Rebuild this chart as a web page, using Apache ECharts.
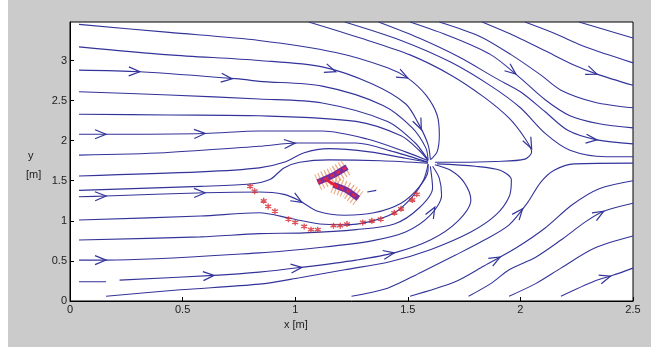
<!DOCTYPE html>
<html><head><meta charset="utf-8">
<script src="https://cdn.jsdelivr.net/npm/echarts/dist/echarts.min.js"></script>
<style>
html,body{margin:0;padding:0;background:#fff;width:651px;height:351px;overflow:hidden}
#c{position:absolute;left:8px;top:0;width:643px;height:347px;background:#cbcbcb}
</style></head><body><div id="c"></div>
<script>
// ---- axis ticks ----
const xTicks = [0, 0.5, 1, 1.5, 2, 2.5];
const yTicks = [0, 0.5, 1, 1.5, 2, 2.5, 3];
const yMax = 3.48;

// ---- streamlines (x [m], y [m]) ----
const L1 = [[0.04,3.45],[0.44,3.35],[0.84,3.25],[1.18,3.10],[1.41,2.91],[1.50,2.78],[1.58,2.57],[1.63,2.32],[1.64,2.07],[1.63,1.86],[1.60,1.76]];
const L2 = [[0.04,3.17],[0.44,3.07],[0.84,3.00],[1.12,2.92],[1.34,2.71],[1.49,2.46],[1.55,2.20],[1.59,1.95],[1.60,1.77]];
const L3 = [[0.04,2.88],[0.31,2.86],[0.75,2.77],[0.84,2.74],[1.12,2.68],[1.39,2.44],[1.52,2.16],[1.58,1.91],[1.59,1.76]];
const L4 = [[0.04,2.61],[0.44,2.57],[0.84,2.52],[1.12,2.47],[1.41,2.24],[1.53,1.98],[1.59,1.76]];
const L5 = [[0.04,2.33],[0.44,2.32],[0.84,2.31],[1.27,2.24],[1.47,2.06],[1.55,1.88],[1.59,1.75]];
const L6 = [[0.04,2.08],[0.16,2.08],[0.60,2.09],[0.84,2.12],[1.12,2.12],[1.32,2.02],[1.49,1.86],[1.59,1.75]];
const L7 = [[0.04,1.82],[0.42,1.85],[0.84,1.93],[1.01,1.97],[1.27,1.97],[1.44,1.86],[1.59,1.73]];
const L8 = [[0.04,1.56],[0.58,1.61],[0.84,1.66],[0.95,1.73],[1.04,1.85],[1.15,1.90],[1.33,1.86],[1.49,1.78],[1.59,1.73]];
const L9 = [[0.04,1.38],[0.58,1.43],[0.80,1.46],[0.89,1.52],[0.95,1.66],[1.02,1.73],[1.15,1.76],[1.38,1.75],[1.59,1.72]];
const L10 = [[0.04,1.30],[0.16,1.31],[0.60,1.35],[0.84,1.36],[0.95,1.33],[1.02,1.25],[1.10,1.12],[1.22,1.07],[1.35,1.10],[1.47,1.22],[1.55,1.42],[1.59,1.63],[1.59,1.71]];
const L11 = [[0.04,1.01],[0.58,1.06],[0.84,1.10],[0.98,1.03],[1.11,0.96],[1.22,0.95],[1.33,0.99],[1.44,1.10],[1.52,1.30],[1.57,1.51],[1.59,1.70]];
const L12 = [[0.04,0.76],[0.58,0.80],[0.84,0.84],[1.04,0.85],[1.27,0.89],[1.44,0.96],[1.55,1.16],[1.61,1.41],[1.60,1.68]];
const L13 = [[0.04,0.51],[0.16,0.51],[0.84,0.60],[1.12,0.67],[1.34,0.75],[1.49,0.86],[1.60,1.07],[1.65,1.32],[1.64,1.53],[1.61,1.68]];
const L14a = [[0.04,0.24],[0.16,0.24]];
const L14 = [[0.22,0.26],[0.64,0.32],[0.84,0.36],[1.03,0.42],[1.27,0.51],[1.44,0.60],[1.60,0.76],[1.72,0.99],[1.78,1.26],[1.75,1.48],[1.69,1.63],[1.62,1.70]];
const L15 = [[0.16,0.06],[0.49,0.14],[0.84,0.21],[1.02,0.29],[1.22,0.39],[1.42,0.49],[1.60,0.64],[1.78,0.86],[1.89,1.07],[1.95,1.30],[1.96,1.51],[1.91,1.63],[1.80,1.68],[1.63,1.71]];
const R1 = [[1.25,0.06],[1.41,0.16],[1.56,0.36],[1.71,0.57],[1.84,0.76],[1.95,0.95],[2.03,1.22],[2.09,1.48],[2.15,1.63],[2.24,1.71],[2.50,1.72]];
const R2 = [[1.51,0.06],[1.71,0.24],[1.84,0.44],[1.98,0.66],[2.11,0.91],[2.23,1.20],[2.35,1.40],[2.50,1.50]];
const R3 = [[1.77,0.06],[1.87,0.22],[1.95,0.39],[2.07,0.55],[2.18,0.76],[2.29,0.99],[2.37,1.12],[2.50,1.22]];
const R4 = [[1.95,0.06],[2.07,0.22],[2.18,0.41],[2.33,0.66],[2.50,0.81]];
const R5 = [[2.18,0.06],[2.33,0.25],[2.41,0.32],[2.50,0.41]];
const A1 = [[2.26,3.48],[2.38,3.38],[2.50,3.28]];
const A2 = [[2.02,3.48],[2.15,3.34],[2.27,3.19],[2.38,3.08],[2.50,2.97]];
const A3 = [[1.83,3.48],[1.98,3.30],[2.11,3.12],[2.24,2.94],[2.34,2.83],[2.50,2.69]];
const A4 = [[1.64,3.48],[1.82,3.30],[1.96,3.07],[2.09,2.82],[2.18,2.63],[2.33,2.48],[2.50,2.41]];
const A5 = [[1.51,3.48],[1.69,3.30],[1.87,3.07],[2.00,2.78],[2.11,2.51],[2.22,2.31],[2.35,2.21],[2.50,2.16]];
const A6 = [[1.37,3.48],[1.55,3.28],[1.73,3.04],[1.89,2.78],[2.00,2.61],[2.11,2.36],[2.21,2.13],[2.34,2.01],[2.50,1.96]];
const A7 = [[1.22,3.48],[1.47,3.25],[1.69,2.98],[1.87,2.68],[2.00,2.41],[2.11,2.09],[2.22,1.88],[2.38,1.80],[2.50,1.80]];
const A8 = [[1.06,3.48],[1.29,3.28],[1.51,3.07],[1.69,2.82],[1.84,2.54],[1.95,2.28],[2.02,2.03],[2.05,1.86],[2.02,1.77],[1.89,1.74],[1.73,1.73],[1.62,1.73]];
const D1 = [[1.32,1.36],[1.36,1.38]];

const lineMap = {L1,L2,L3,L4,L5,L6,L7,L8,L9,L10,L11,L12,L13,L14a,L14,L15,R1,R2,R3,R4,R5,A1,A2,A3,A4,A5,A6,A7,A8,D1};

// ---- arrowheads: [line, x, y] ----
const arrowPts = [
 ['L3',0.31,2.86],['L3',0.72,2.77],['L6',0.16,2.08],['L6',0.60,2.09],
 ['L2',1.18,2.86],['L1',1.50,2.78],['L2',1.56,2.14],['L7',1.00,1.97],
 ['L10',0.16,1.31],['L10',0.60,1.35],['L10',1.03,1.23],
 ['L13',0.16,0.51],['L14',0.64,0.32],['L14',1.03,0.42],['L14',1.44,0.60],
 ['L13',1.62,1.17],['R1',2.01,1.15],['R2',1.91,0.55],['R3',2.37,1.12],['R5',2.40,0.31],
 ['A5',1.98,2.83],['A3',2.34,2.83],['A6',2.34,2.01],['A8',2.05,1.90]
];

// ---- tracked points (red stars) ----
const starPts = [[0.80,1.43],[0.82,1.37],[0.86,1.25],[0.88,1.18],[0.91,1.12],[0.97,1.02],[1.00,0.98],[1.04,0.93],[1.07,0.89],[1.10,0.89],
 [1.17,0.94],[1.20,0.94],[1.23,0.96],[1.30,0.98],[1.34,1.00],[1.38,1.02],[1.44,1.10],[1.47,1.15],[1.52,1.26],[1.54,1.33]];

// ---- body segments ----
const bodyUpper = [[1.10,1.48],[1.17,1.57],[1.23,1.67]];
const bodyLink = [[1.14,1.51],[1.19,1.42]];
const bodyLower = [[1.17,1.45],[1.23,1.38],[1.28,1.28]];

const LC = '#33339a';
const chart = echarts.init(document.getElementById('c'), null, {renderer:'canvas'});
const series = [];
Object.keys(lineMap).forEach(k => {
  series.push({type:'line', name:k, data:lineMap[k], showSymbol:false, smooth:0.3, silent:true,
    lineStyle:{color:LC, width:1.1}, z:2, animation:false});
});
[bodyUpper, bodyLower].forEach(b => {
  series.push({type:'line', data:b, showSymbol:false, smooth:0.2, z:3,
    lineStyle:{color:'#e79a6a', width:17, type:[1.2,2.2], opacity:0.8}});
});
[bodyUpper, bodyLower].forEach(b => {
  series.push({type:'line', data:b, showSymbol:false, smooth:0.2, z:4,
    lineStyle:{color:'#7a2f9e', width:6}});
  series.push({type:'line', data:b, showSymbol:false, smooth:0.2, z:5,
    lineStyle:{color:'#e0264a', width:2.5, type:[4,3]}});
});
series.push({type:'line', data:bodyLink, showSymbol:false, z:5, lineStyle:{color:'#e8203a', width:3}});

series.push({type:'custom', z:6, data:arrowPts.map(a=>[a[1],a[2]]), encode:{x:0,y:1},
  renderItem:function(params, api){
    const a = arrowPts[params.dataIndex];
    const pts = lineMap[a[0]];
    let best = 0, bd = Infinity;
    for (let i=0;i<pts.length-1;i++){
      const mx=(pts[i][0]+pts[i+1][0])/2, my=(pts[i][1]+pts[i+1][1])/2;
      const d=(mx-a[1])*(mx-a[1])+(my-a[2])*(my-a[2]);
      if(d<bd){bd=d;best=i;}
    }
    const p0=api.coord(pts[best]), p1=api.coord(pts[best+1]);
    const t=api.coord([a[1],a[2]]);
    let dx=p1[0]-p0[0], dy=p1[1]-p0[1]; const len=Math.hypot(dx,dy)||1;
    dx/=len; dy/=len; const nx=-dy, ny=dx;
    const L=11, W=4.5;
    return {type:'polyline', shape:{points:[[t[0]-dx*L+nx*W,t[1]-dy*L+ny*W],[t[0],t[1]],[t[0]-dx*L-nx*W,t[1]-dy*L-ny*W]]},
      style:{stroke:LC, lineWidth:1.2, fill:null}};
  }});

series.push({type:'scatter', data:starPts, z:7, symbol:'path://M5,0L5,10M0.67,2.5L9.33,7.5M0.67,7.5L9.33,2.5',
  symbolSize:6, itemStyle:{color:'rgba(0,0,0,0)', borderColor:'#d42a32', borderWidth:1.4}});

chart.setOption({
  animation:false,
  backgroundColor:'#cbcbcb',
  grid:{left:62, top:22, width:563, height:279, show:true, backgroundColor:'#ffffff', borderColor:'#000', borderWidth:1},
  xAxis:{type:'value', min:xTicks[0], max:xTicks[xTicks.length-1], interval:0.5,
    axisLine:{show:true, lineStyle:{color:'#000'}}, splitLine:{show:false},
    axisTick:{inside:true, length:4, lineStyle:{color:'#000'}},
    axisLabel:{color:'#222', fontSize:11, fontFamily:'Liberation Sans, Arial', margin:3}},
  yAxis:{type:'value', min:yTicks[0], max:yMax, interval:0.5,
    axisLine:{show:true, lineStyle:{color:'#000'}}, splitLine:{show:false},
    axisTick:{inside:true, length:4, lineStyle:{color:'#000'}},
    axisLabel:{color:'#222', fontSize:11, fontFamily:'Liberation Sans, Arial', margin:3, showMaxLabel:false}},
  graphic:[
    {type:'text', left:20, top:150, style:{text:'y', fill:'#222', font:'11px Liberation Sans, Arial'}},
    {type:'text', left:18, top:169, style:{text:'[m]', fill:'#222', font:'11px Liberation Sans, Arial'}},
    {type:'text', left:276, top:319, style:{text:'x [m]', fill:'#222', font:'11px Liberation Sans, Arial'}}
  ],
  series:series
});
</script></body></html>
